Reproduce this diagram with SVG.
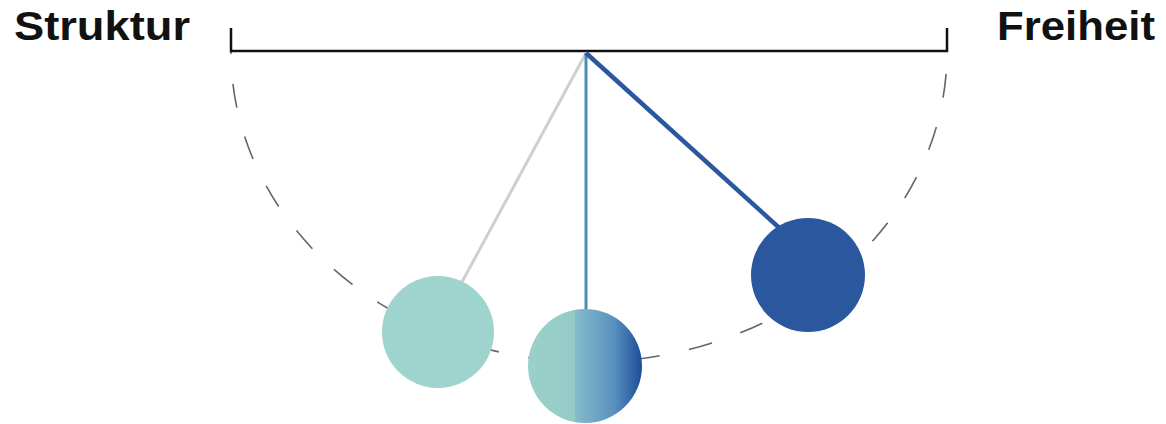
<svg xmlns="http://www.w3.org/2000/svg" width="1166" height="424" viewBox="0 0 1166 424">
<defs>
<style>
.label{font-family:"Liberation Sans",Arial,sans-serif;font-weight:700;font-size:41px;fill:#111}
.bar{stroke:#111;stroke-width:2.5;fill:none}
.arc{stroke:#666;stroke-width:1.6;fill:none;stroke-dasharray:24 30}
</style>
<linearGradient id="mid" x1="528" y1="0" x2="642" y2="0" gradientUnits="userSpaceOnUse">
<stop offset="0" stop-color="#9bd0ca"/>
<stop offset="0.41" stop-color="#95cbc6"/>
<stop offset="0.41" stop-color="#86bccb"/>
<stop offset="0.75" stop-color="#5a92bf"/>
<stop offset="1" stop-color="#1d4d9a"/>
</linearGradient>
</defs>
<rect width="1166" height="424" fill="#fff"/>
<g id="labels">
<text class="label" x="14" y="40" textLength="176" lengthAdjust="spacingAndGlyphs">Struktur</text>
<text class="label" x="997" y="40" textLength="158" lengthAdjust="spacingAndGlyphs">Freiheit</text>
</g>
<g id="connectors">
<path class="arc" d="M231,52 A358,310 0 0 0 947,52" stroke-dashoffset="-32"/>
<path class="bar" d="M231,28 V51 H947 V28"/>
<line x1="586" y1="53" x2="462" y2="282" stroke="#cfcfcf" stroke-width="3"/>
<line x1="586" y1="53" x2="586" y2="312" stroke="#4b8db5" stroke-width="3"/>
<line x1="586" y1="53" x2="786" y2="234" stroke="#2b57a0" stroke-width="4.5"/>
</g>
<g id="ball-left"><circle cx="438" cy="332" r="56" fill="#9fd3cd"/></g>
<g id="ball-middle"><circle cx="585" cy="366" r="57" fill="url(#mid)"/></g>
<g id="ball-right"><circle cx="808" cy="275" r="57" fill="#2b579e"/></g>
</svg>
